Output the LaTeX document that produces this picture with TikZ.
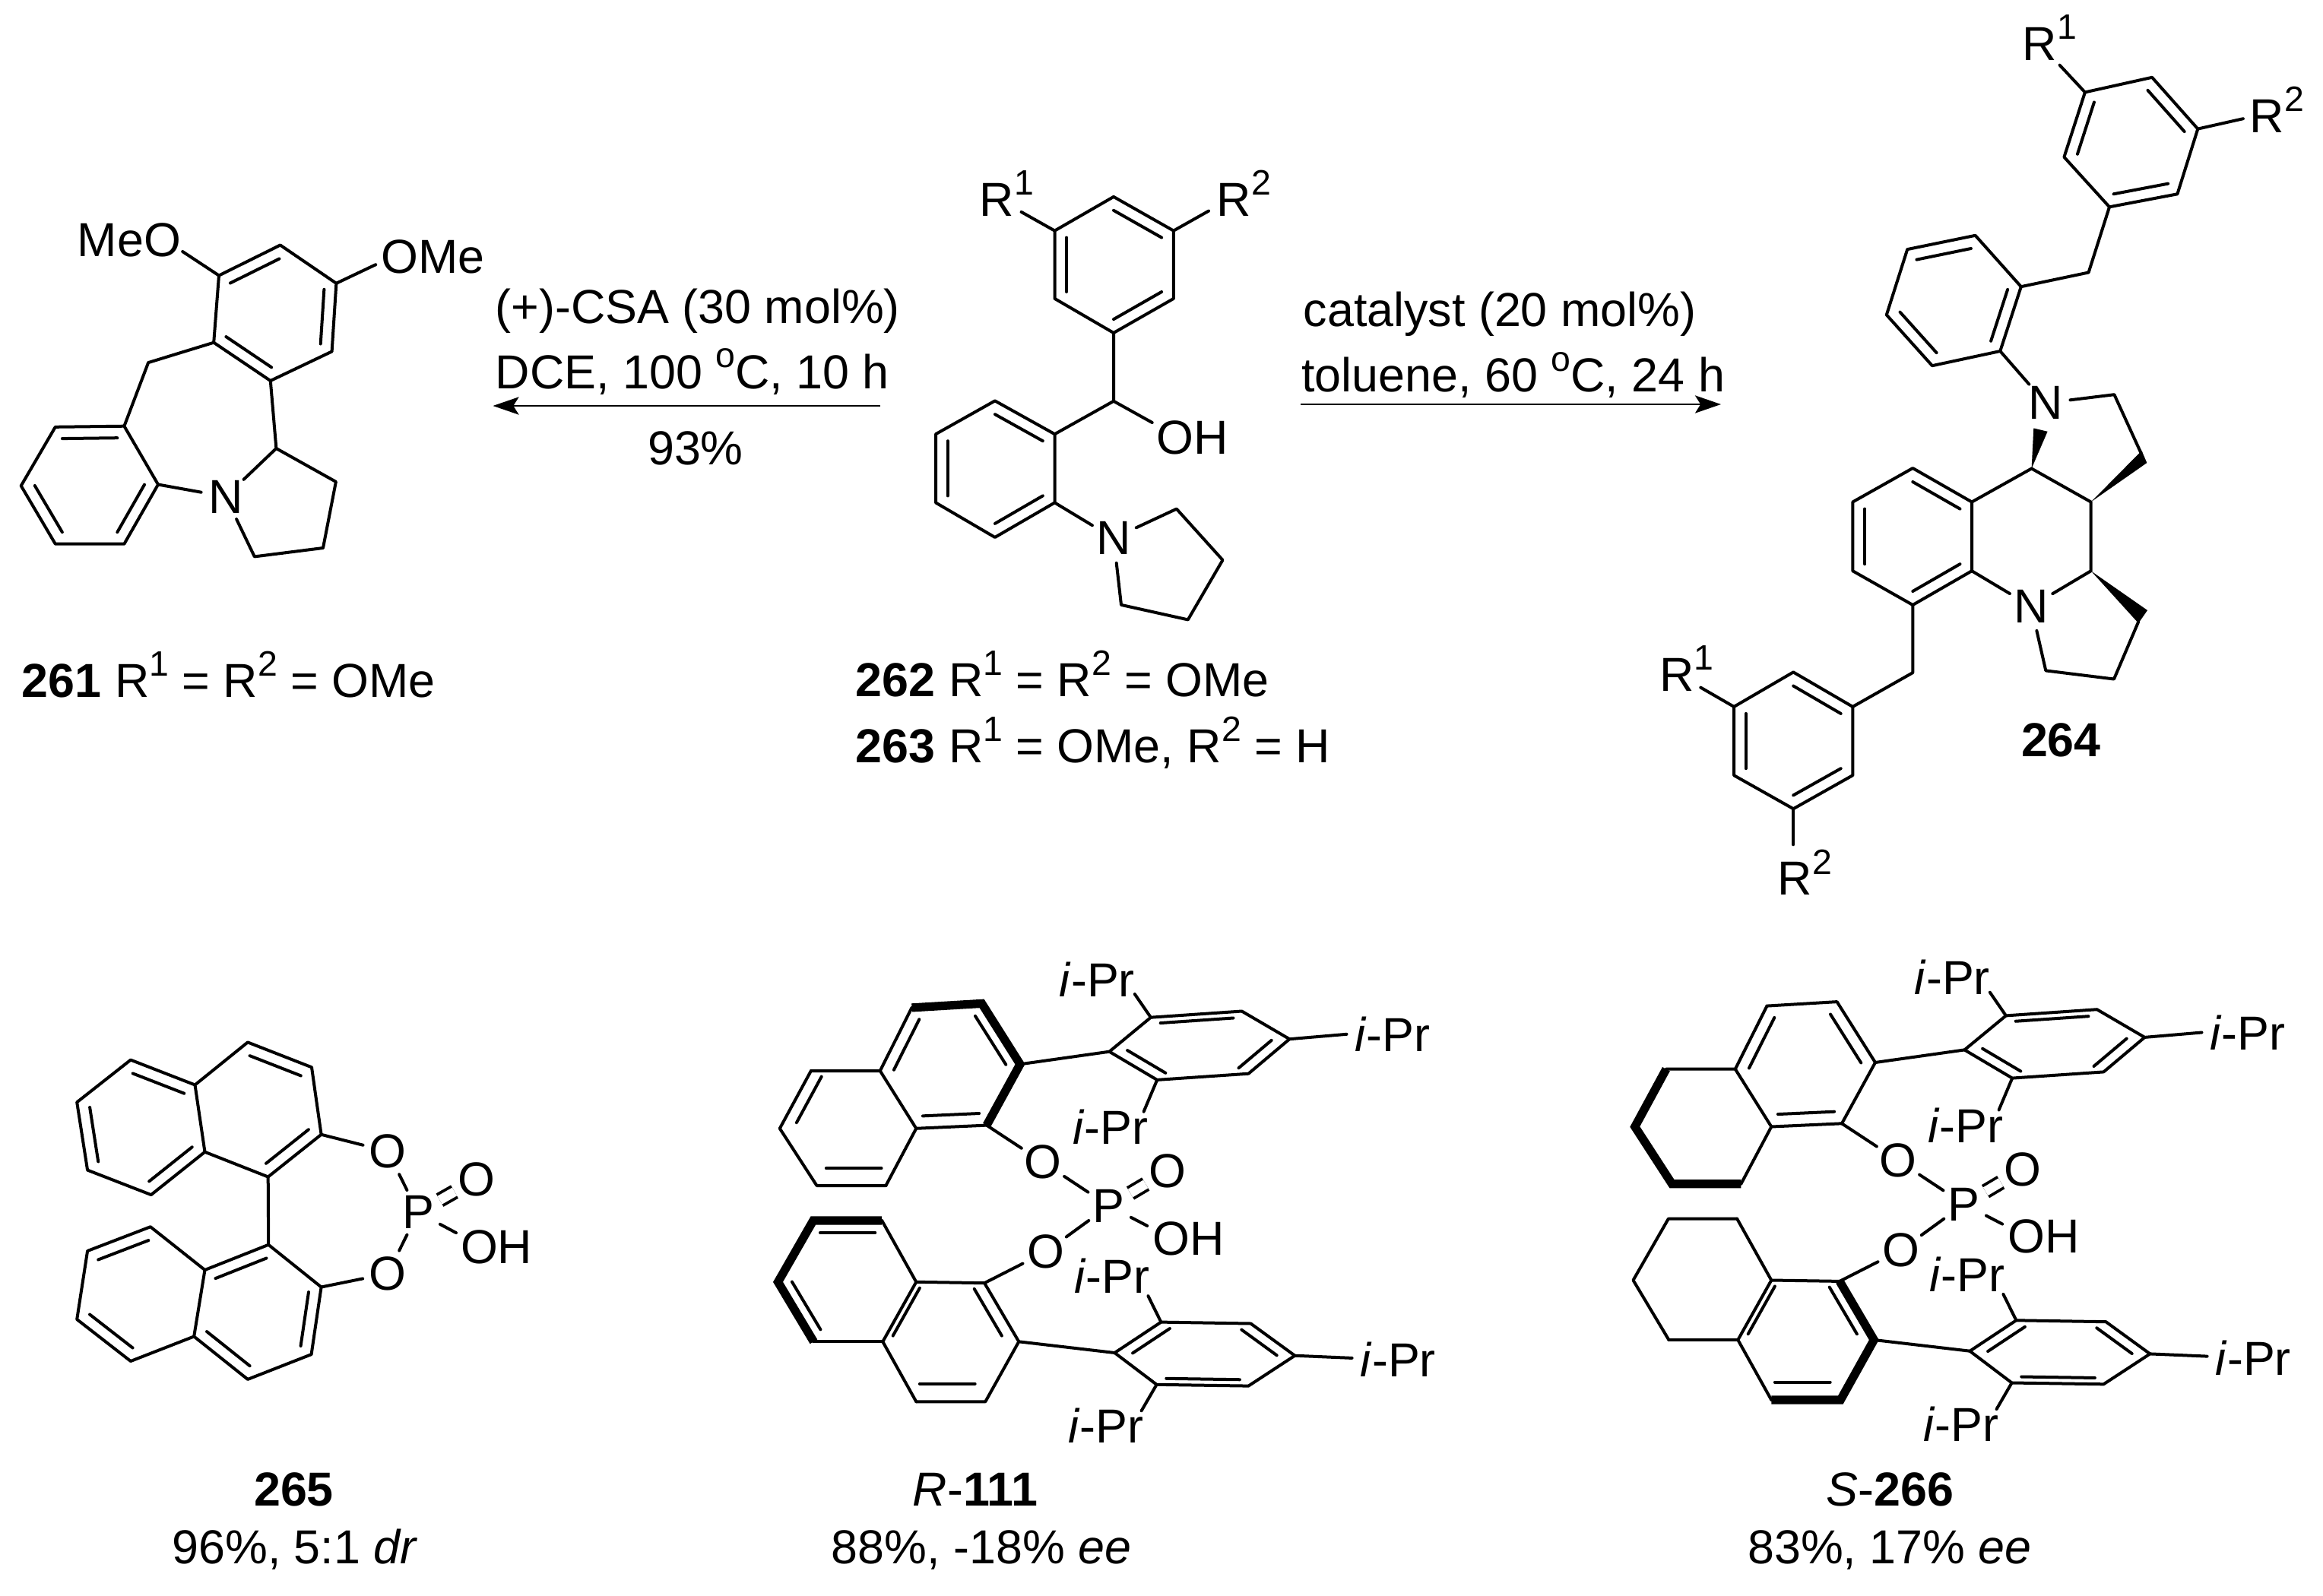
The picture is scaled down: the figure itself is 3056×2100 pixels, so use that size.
\documentclass[tikz,border=0pt]{standalone}
\usepackage{fontspec}
\setmainfont{Liberation Sans}
\usepackage{tikz}
\usetikzlibrary{calc}
\usetikzlibrary{arrows.meta}
\tikzset{
  bond/.style={line width=1pt,line cap=round,line join=round},
  boldbond/.style={line width=2.8pt,line cap=butt,line join=miter},
  dblbond/.style={line width=0.95pt,line cap=butt,double,double distance=3.1pt},
  rxn/.style={line width=0.65pt,-{Stealth[length=8.5pt,width=5.8pt,inset=1.8pt]}},
  lab/.style={inner sep=0pt,font=\fontsize{15.7}{18}\selectfont},
  atom/.style={circle,inner sep=0pt,minimum size=16pt,font=\fontsize{15.7}{18}\selectfont}
}
\newcommand{\su}[1]{\raisebox{.44em}{\fontsize{11.6}{12}\selectfont #1}}
\newcommand{\atm}[3]{\coordinate (#1) at ( #2 , #3 );}
\newcommand{\ctr}[3]{\coordinate (#1) at ($(#2)!0.5!(#3)$);}
\newcommand{\dbl}[3]{\draw[bond] ($(#1)!0.2!(#3)$) -- ($(#2)!0.2!(#3)$);}
\newcommand{\wdg}[3]{\fill (#1) -- (#2) -- (#3) -- cycle;}
% phosphate with the two aryl arms, shared by the two catalysts
\newcommand{\catcore}{
  % upper naphthyl
  \atm{a}{1291.6}{1320.4} \atm{b}{1199.5}{1325.9} \atm{c}{1157.8}{1409}
  \atm{d}{1066.9}{1409} \atm{e}{1025.8}{1484.8} \atm{f}{1074.5}{1560}
  \atm{g}{1165.4}{1560} \atm{h}{1205.3}{1484.8} \atm{i}{1298}{1480.6}
  \atm{j}{1342}{1400.3}
  \ctr{cr}{a}{h} \ctr{cl}{d}{h}
  \draw[bond] (d) -- (c) -- (b);
  \draw[bond] (g) -- (h) -- (c);
  \draw[bond] (h) -- (i);
  \dbl{c}{b}{cr} \dbl{a}{j}{cr} \dbl{h}{i}{cr}
  % upper aryl
  \atm{k}{1459.4}{1383.7} \atm{l}{1513.9}{1338.7} \atm{m}{1633.6}{1330.5}
  \atm{n}{1696.4}{1367.2} \atm{o}{1642.4}{1412.7} \atm{p}{1522.2}{1420.9}
  \ctr{ca}{k}{n}
  \draw[bond] (k) -- (l) -- (m) -- (n) -- (o) -- (p) -- cycle;
  \draw[bond] (j) -- (k);
  \dbl{l}{m}{ca} \dbl{n}{o}{ca} \dbl{p}{k}{ca}
  % lower naphthyl
  \atm{a2}{1069.8}{1606} \atm{b2}{1160.2}{1606} \atm{c2}{1205.3}{1686.8}
  \atm{d2}{1295.1}{1688.2} \atm{e2}{1340.3}{1765.3} \atm{f2}{1296.3}{1844.3}
  \atm{g2}{1205.3}{1844.3} \atm{h2}{1161.3}{1765.3} \atm{i2}{1070.4}{1765.3}
  \atm{j2}{1023.5}{1686.8}
  \ctr{cr2}{d2}{h2} \ctr{cl2}{a2}{h2}
  \draw[bond] (b2) -- (c2) -- (d2);
  \draw[bond] (g2) -- (h2) -- (c2);
  \draw[bond] (h2) -- (i2);
  \dbl{c2}{h2}{cr2} \dbl{d2}{e2}{cr2} \dbl{f2}{g2}{cr2}
  % lower aryl
  \atm{k2}{1466.4}{1780} \atm{l2}{1527.4}{1739.6} \atm{m2}{1645.4}{1741.5}
  \atm{n2}{1703.4}{1783.7} \atm{o2}{1642.4}{1823.6} \atm{p2}{1521.6}{1821.8}
  \ctr{ca2}{k2}{n2}
  \draw[bond] (k2) -- (l2) -- (m2) -- (n2) -- (o2) -- (p2) -- cycle;
  \draw[bond] (e2) -- (k2);
  \dbl{k2}{l2}{ca2} \dbl{m2}{n2}{ca2} \dbl{o2}{p2}{ca2}
  % phosphate
  \node[atom] (o1) at (1372,1529.3) {O};
  \node[atom] (o3) at (1375.5,1647.3) {O};
  \node[atom] (ph) at (1458.8,1586.7) {P};
  \node[atom] (oa) at (1536.2,1540.8) {O};
  \node[lab,anchor=base west] (oh) at (1515.5,1651) {OH};
  \atm{ohe}{1509.2}{1612.9}
  \draw[bond] (i) -- (o1);
  \draw[bond] (d2) -- (o3);
  \draw[bond] (o1) -- (ph);
  \draw[bond] (o3) -- (ph);
  \draw[bond] (ph) -- (ohe);
  \draw[dblbond] (ph) -- (oa);
  % i-Pr groups
  \node[lab,anchor=base west] (ipa) at (1393,1311.2) {\textit{i}-Pr};
  \node[lab,anchor=base west] (ipb) at (1781.5,1383.3) {\textit{i}-Pr};
  \node[lab,anchor=base west] (ipc) at (1410.7,1505.4) {\textit{i}-Pr};
  \node[lab,anchor=base west] (ipd) at (1412.4,1701.5) {\textit{i}-Pr};
  \node[lab,anchor=base west] (ipe) at (1789,1811.7) {\textit{i}-Pr};
  \node[lab,anchor=base west] (ipf) at (1404.8,1898.9) {\textit{i}-Pr};
  \atm{ipae}{1492.8}{1308} \atm{ipbe}{1771.5}{1360.8} \atm{ipce}{1504.6}{1462.7}
  \atm{ipde}{1510.4}{1705.2} \atm{ipee}{1778.6}{1786.9} \atm{ipfe}{1501.6}{1856.3}
  \draw[bond] (l) -- (ipae);
  \draw[bond] (n) -- (ipbe);
  \draw[bond] (p) -- (ipce);
  \draw[bond] (l2) -- (ipde);
  \draw[bond] (n2) -- (ipee);
  \draw[bond] (p2) -- (ipfe);
}
\begin{document}
\begin{tikzpicture}[x=0.25pt,y=-0.25pt]
  \useasboundingbox (0,0) rectangle (3056,2100);
  % compound 261
  \atm{a1}{288}{362.5} \atm{a2}{368.7}{322.5} \atm{a3}{442.4}{372.8}
  \atm{a4}{436.6}{462.5} \atm{a5}{355.8}{501} \atm{a6}{281.2}{450.7}
  \atm{a7}{195.1}{477.1}
  \atm{a8}{163.4}{560.7} \atm{a9}{72.8}{561.8} \atm{a10}{27.7}{639.2}
  \atm{a11}{72.8}{715.7} \atm{a12}{163.4}{715.7} \atm{a13}{208}{637.5}
  \atm{a14}{363.4}{590} \atm{a15}{441.9}{633.9} \atm{a16}{425}{721} \atm{a17}{334.8}{732.4}
  \ctr{ac1}{a1}{a4} \ctr{ac2}{a8}{a11}
  \node[atom] (na) at (296.9,653.5) {N};
  \node[lab,anchor=base west] (meoa) at (101,337) {MeO};
  \node[lab,anchor=base west] (omea) at (501,359) {OMe};
  \atm{meoe}{240.2}{331} \atm{omee}{494.2}{348.2}
  \draw[bond] (a1) -- (a2) -- (a3) -- (a4) -- (a5) -- (a6) -- cycle;
  \draw[bond] (a6) -- (a7) -- (a8);
  \draw[bond] (a8) -- (a9) -- (a10) -- (a11) -- (a12) -- (a13) -- cycle;
  \draw[bond] (a5) -- (a14) -- (a15) -- (a16) -- (a17) -- (na);
  \draw[bond] (a14) -- (na);
  \draw[bond] (a13) -- (na);
  \draw[bond] (a1) -- (meoe);
  \draw[bond] (a3) -- (omee);
  \dbl{a1}{a2}{ac1} \dbl{a3}{a4}{ac1} \dbl{a5}{a6}{ac1}
  \dbl{a8}{a9}{ac2} \dbl{a10}{a11}{ac2} \dbl{a12}{a13}{ac2}
  \node[lab,anchor=base west] (cap261) at (28,917) {\textbf{261} R\su{1} = R\su{2} = OMe};
  % left arrow
  \atm{arl1}{1158}{534} \atm{arl2}{648.5}{534}
  \draw[rxn] (arl1) -- (arl2);
  \node[lab,anchor=base west] (csa) at (651,425) {(+)-CSA (30 mol\%)};
  \node[lab,anchor=base west] (dce) at (651,511) {DCE, 100 \su{o}C, 10 h};
  \node[lab,anchor=base] (yld) at (915,611) {93\%};
  % compound 262
  \atm{b1}{1465}{258.9} \atm{b2}{1543.9}{303.6} \atm{b3}{1543.9}{392.9}
  \atm{b4}{1465}{438} \atm{b5}{1387.5}{392.9} \atm{b6}{1387.5}{303.6}
  \atm{b7}{1465}{527.8}
  \atm{b8}{1387.5}{571.2} \atm{b9}{1308.9}{527.4} \atm{b10}{1231}{571.2}
  \atm{b11}{1231}{661.4} \atm{b12}{1308.9}{707} \atm{b13}{1387.5}{661.4}
  \atm{b14}{1547.8}{669.6} \atm{b15}{1608.5}{736.9} \atm{b16}{1562.8}{815.4} \atm{b17}{1475}{795.9}
  \ctr{bc1}{b1}{b4} \ctr{bc2}{b8}{b11}
  \node[atom] (nb) at (1465,708.2) {N};
  \node[lab,anchor=base west] (ohb) at (1520.8,597) {OH};
  \node[lab,anchor=base west] (rb1) at (1288,284) {R\su{1}};
  \node[lab,anchor=base west] (rb2) at (1600,284) {R\su{2}};
  \atm{ohbe}{1515.7}{556} \atm{rb1e}{1343.6}{278.9} \atm{rb2e}{1590}{277.6}
  \draw[bond] (b1) -- (b2) -- (b3) -- (b4) -- (b5) -- (b6) -- cycle;
  \draw[bond] (b4) -- (b7) -- (b8);
  \draw[bond] (b7) -- (ohbe);
  \draw[bond] (b8) -- (b9) -- (b10) -- (b11) -- (b12) -- (b13) -- cycle;
  \draw[bond] (b13) -- (nb);
  \draw[bond] (nb) -- (b14) -- (b15) -- (b16) -- (b17) -- (nb);
  \draw[bond] (b6) -- (rb1e);
  \draw[bond] (b2) -- (rb2e);
  \dbl{b5}{b6}{bc1} \dbl{b1}{b2}{bc1} \dbl{b3}{b4}{bc1}
  \dbl{b8}{b9}{bc2} \dbl{b10}{b11}{bc2} \dbl{b12}{b13}{bc2}
  \node[lab,anchor=base west] (cap262) at (1125,916) {\textbf{262} R\su{1} = R\su{2} = OMe};
  \node[lab,anchor=base west] (cap263) at (1125,1003.6) {\textbf{263} R\su{1} = OMe, R\su{2} = H};
  % right arrow
  \atm{arr1}{1711}{532} \atm{arr2}{2264}{532}
  \draw[rxn] (arr1) -- (arr2);
  \node[lab,anchor=base west] (cat) at (1714,429) {catalyst (20 mol\%)};
  \node[lab,anchor=base west] (tol) at (1711.7,515.7) {toluene, 60 \su{o}C, 24 h};
  % compound 264, top aryl
  \atm{c1}{2831.1}{101.8} \atm{c2}{2891.3}{169.6} \atm{c3}{2864.4}{255.3}
  \atm{c4}{2775}{272.3} \atm{c5}{2715.4}{206.7} \atm{c6}{2742.9}{121.4}
  \atm{c7}{2747.6}{358.5}
  \atm{c8}{2658.8}{377.2} \atm{c9}{2598.6}{309.8} \atm{c10}{2509.2}{328.1}
  \atm{c11}{2481.8}{414.3} \atm{c12}{2541.9}{481.2} \atm{c13}{2631.3}{462}
  \ctr{cc1}{c1}{c4} \ctr{cc2}{c8}{c11}
  \node[atom] (nc) at (2690.9,530.3) {N};
  \node[lab,anchor=base west] (rc1) at (2660,79.5) {R\su{1}};
  \node[lab,anchor=base west] (rc2) at (2959,174) {R\su{2}};
  \atm{rc1e}{2709.6}{85.7} \atm{rc2e}{2950.9}{156.2}
  \draw[bond] (c1) -- (c2) -- (c3) -- (c4) -- (c5) -- (c6) -- cycle;
  \draw[bond] (c4) -- (c7) -- (c8);
  \draw[bond] (c8) -- (c9) -- (c10) -- (c11) -- (c12) -- (c13) -- cycle;
  \draw[bond] (c13) -- (nc);
  \draw[bond] (c6) -- (rc1e);
  \draw[bond] (c2) -- (rc2e);
  \dbl{c1}{c2}{cc1} \dbl{c3}{c4}{cc1} \dbl{c5}{c6}{cc1}
  \dbl{c9}{c10}{cc2} \dbl{c11}{c12}{cc2} \dbl{c13}{c8}{cc2}
  % compound 264, tetracycle
  \atm{c14}{2781.4}{519.2} \atm{c15}{2816.5}{596} \atm{c16}{2750.7}{660.5}
  \atm{c17}{2672.6}{616.5} \atm{c18}{2750.7}{751.2}
  \atm{c19}{2516.3}{616} \atm{c20}{2594}{660.5} \atm{c21}{2594}{751.2}
  \atm{c22}{2516.3}{796} \atm{c23}{2437.3}{751.2} \atm{c24}{2437.3}{660.5}
  \atm{c25}{2813.2}{818.1} \atm{c26}{2781}{893.5} \atm{c27}{2691.3}{882.4}
  \ctr{cc3}{c19}{c22}
  \node[atom] (nd) at (2672.1,797.9) {N};
  \draw[bond] (nc) -- (c14) -- (c15);
  \draw[bond] (c17) -- (c16) -- (c18) -- (nd);
  \draw[bond] (c20) -- (c17);
  \draw[bond] (c19) -- (c20) -- (c21) -- (c22) -- (c23) -- (c24) -- cycle;
  \draw[bond] (c21) -- (nd);
  \draw[bond] (nd) -- (c27) -- (c26) -- (c25);
  \dbl{c19}{c20}{cc3} \dbl{c23}{c24}{cc3} \dbl{c21}{c22}{cc3}
  \atm{w1}{2675.3}{563.4} \atm{w2}{2693.6}{567.8}
  \atm{w3}{2817.5}{593} \atm{w4}{2824.3}{609}
  \atm{w5}{2825}{803} \atm{w6}{2813.2}{820}
  \wdg{c17}{w1}{w2} \wdg{c16}{w3}{w4} \wdg{c18}{w5}{w6}
  % compound 264, lower aryl
  \atm{c28}{2516.3}{885.1}
  \atm{c29}{2437.3}{929.9} \atm{c30}{2359.2}{884.4} \atm{c31}{2281.1}{929.9}
  \atm{c32}{2281.1}{1020.2} \atm{c33}{2359.2}{1064.2} \atm{c34}{2437.3}{1020.2}
  \ctr{cc4}{c29}{c32}
  \node[lab,anchor=base west] (rc3) at (2182.5,909.2) {R\su{1}};
  \node[lab,anchor=base west] (rc4) at (2337.9,1177.9) {R\su{2}};
  \atm{rc3e}{2237.3}{904.6} \atm{rc4e}{2359.2}{1111.3}
  \draw[bond] (c22) -- (c28) -- (c29);
  \draw[bond] (c29) -- (c30) -- (c31) -- (c32) -- (c33) -- (c34) -- cycle;
  \draw[bond] (c31) -- (rc3e);
  \draw[bond] (c33) -- (rc4e);
  \dbl{c29}{c30}{cc4} \dbl{c31}{c32}{cc4} \dbl{c33}{c34}{cc4}
  \node[lab,anchor=base] (cap264) at (2711.4,995) {\textbf{264}};
  % compound 265
  \atm{d1}{325.9}{1371.4} \atm{d2}{410}{1404.3} \atm{d3}{422.6}{1492.8}
  \atm{d4}{352.7}{1548.5} \atm{d5}{269.5}{1515.7} \atm{d6}{256.5}{1427.5}
  \atm{d7}{171.9}{1394.6} \atm{d8}{101.2}{1450.3} \atm{d9}{115.1}{1539.6} \atm{d10}{198.8}{1572.1}
  \atm{d11}{353.2}{1637.8} \atm{d12}{422.6}{1693.5} \atm{d13}{409.6}{1782.1}
  \atm{d14}{325.9}{1814.9} \atm{d15}{255.2}{1758.5} \atm{d16}{269.5}{1671}
  \atm{d17}{171.9}{1791} \atm{d18}{101.2}{1736} \atm{d19}{115.1}{1646} \atm{d20}{197.9}{1614.2}
  \ctr{dc1}{d1}{d4} \ctr{dc2}{d6}{d9} \ctr{dc3}{d11}{d14} \ctr{dc4}{d16}{d18}
  \node[atom] (od1) at (510.2,1515) {O};
  \node[atom] (od2) at (510.2,1675.7) {O};
  \node[atom] (pd) at (550,1595.3) {P};
  \node[atom] (od3) at (627.3,1551.4) {O};
  \node[lab,anchor=base west] (ohd) at (605.3,1662.8) {OH};
  \atm{ohde}{600}{1622.1}
  \draw[bond] (d1) -- (d2) -- (d3) -- (d4) -- (d5) -- (d6) -- cycle;
  \draw[bond] (d6) -- (d7) -- (d8) -- (d9) -- (d10) -- (d5);
  \draw[bond] (d11) -- (d12) -- (d13) -- (d14) -- (d15) -- (d16) -- cycle;
  \draw[bond] (d15) -- (d17) -- (d18) -- (d19) -- (d20) -- (d16);
  \draw[bond] (d4) -- (d11);
  \draw[bond] (d3) -- (od1);
  \draw[bond] (d12) -- (od2);
  \draw[bond] (od1) -- (pd);
  \draw[bond] (od2) -- (pd);
  \draw[bond] (pd) -- (ohde);
  \draw[dblbond] (pd) -- (od3);
  \dbl{d1}{d2}{dc1} \dbl{d3}{d4}{dc1} \dbl{d6}{d7}{dc2} \dbl{d8}{d9}{dc2} \dbl{d10}{d5}{dc2}
  \dbl{d11}{d16}{dc3} \dbl{d12}{d13}{dc3} \dbl{d14}{d15}{dc3}
  \dbl{d19}{d20}{dc4} \dbl{d17}{d18}{dc4}
  \node[lab,anchor=base] (cap265) at (386.5,1981.7) {\textbf{265}};
  \node[lab,anchor=base] (yld265) at (388,2057.3) {96\%, 5:1 \textit{dr}};
  % catalyst R-111
  \begin{scope}[name prefix=r]
    \catcore
    \draw[bond] (d) -- (e) -- (f) -- (g);
    \draw[bond] (i2) -- (j2);
    \draw[bond] (d2) -- (e2) -- (f2) -- (g2);
    \draw[boldbond] (b) -- (a) -- (j) -- (i);
    \draw[boldbond] (b2) -- (a2) -- (j2) -- (i2);
    \dbl{d}{e}{cl} \dbl{f}{g}{cl} \dbl{a2}{b2}{cl2} \dbl{j2}{i2}{cl2}
    \node[lab,anchor=base] (capr) at (1283,1981.7) {\textit{R}-\textbf{111}};
    \node[lab,anchor=base] (yldr) at (1291,2057.3) {88\%, -18\% \textit{ee}};
  \end{scope}
  % catalyst S-266
  \begin{scope}[shift={(1125,-2.3)},name prefix=s]
    \catcore
    \draw[bond] (b) -- (a) -- (j) -- (i);
    \draw[bond] (b2) -- (a2) -- (j2) -- (i2);
    \draw[boldbond] (d) -- (e) -- (f) -- (g);
    \draw[boldbond] (d2) -- (e2) -- (f2) -- (g2);
    \node[lab,anchor=base] (caps) at (1361.6,1984) {\textit{S}-\textbf{266}};
    \node[lab,anchor=base] (ylds) at (1361,2059.6) {83\%, 17\% \textit{ee}};
  \end{scope}
\end{tikzpicture}
\end{document}
